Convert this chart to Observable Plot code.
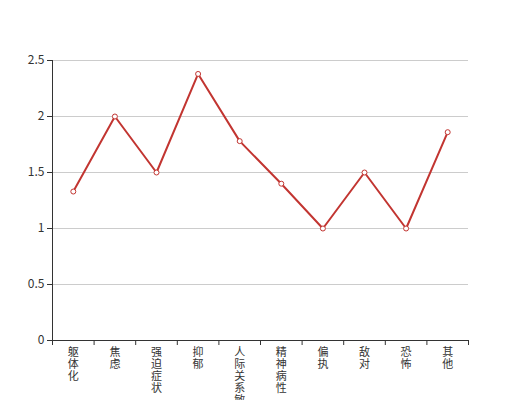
<!DOCTYPE html>
<html>
<head>
<meta charset="utf-8">
<script src="https://cdn.jsdelivr.net/npm/d3@7"></script>
<script src="https://cdn.jsdelivr.net/npm/@observablehq/plot@0.6"></script>
<style>
  html, body { margin: 0; padding: 0; background: white; overflow: hidden; }
</style>
</head>
<body>
<div id="chart"></div>
<script>
const categories = ["躯体化", "焦虑", "强迫症状", "抑郁", "人际关系敏感", "精神病性", "偏执", "敌对", "恐怖", "其他"];
const values = [1.33, 2.0, 1.5, 2.38, 1.78, 1.4, 1.0, 1.5, 1.0, 1.86];
const yTicks = [0, 0.5, 1, 1.5, 2, 2.5];

const data = categories.map((c, i) => ({c, i, v: values[i]}));
const boundaries = d3.range(0, categories.length + 1);

const chart = Plot.plot({
  width: 520,
  height: 400,
  marginLeft: 52,
  marginRight: 52,
  marginTop: 60,
  marginBottom: 60,
  style: {fontFamily: "'Noto Sans CJK SC', 'Noto Sans', sans-serif", fontSize: "12px", color: "#333", background: "white"},
  x: {domain: [0, categories.length], axis: null},
  y: {domain: [0, 2.5], axis: null},
  marks: [
    Plot.gridY(yTicks, {stroke: "#ccc", strokeOpacity: 1}),
    Plot.axisY(yTicks, {tickSize: 5, tickPadding: 3, stroke: "#333", fill: "#333", tickFormat: d => String(d), fontSize: 12, label: null}),
    Plot.axisX(boundaries, {tickSize: 5, tickFormat: () => "", stroke: "#333", label: null}),
    Plot.ruleX([0], {stroke: "#333"}),
    Plot.ruleY([0], {stroke: "#333"}),
    Plot.text(data, {x: d => d.i + 0.5, y: 0, text: d => d.c.split("").join("\n"), lineAnchor: "top", dy: 7, lineHeight: 1.1, fill: "#333", fontSize: 11}),
    Plot.line(data, {x: d => d.i + 0.5, y: "v", stroke: "#c23531", strokeWidth: 2}),
    Plot.dot(data, {x: d => d.i + 0.5, y: "v", r: 2.5, fill: "white", stroke: "#c23531", strokeWidth: 1})
  ]
});
document.getElementById("chart").appendChild(chart);
</script>
</body>
</html>
